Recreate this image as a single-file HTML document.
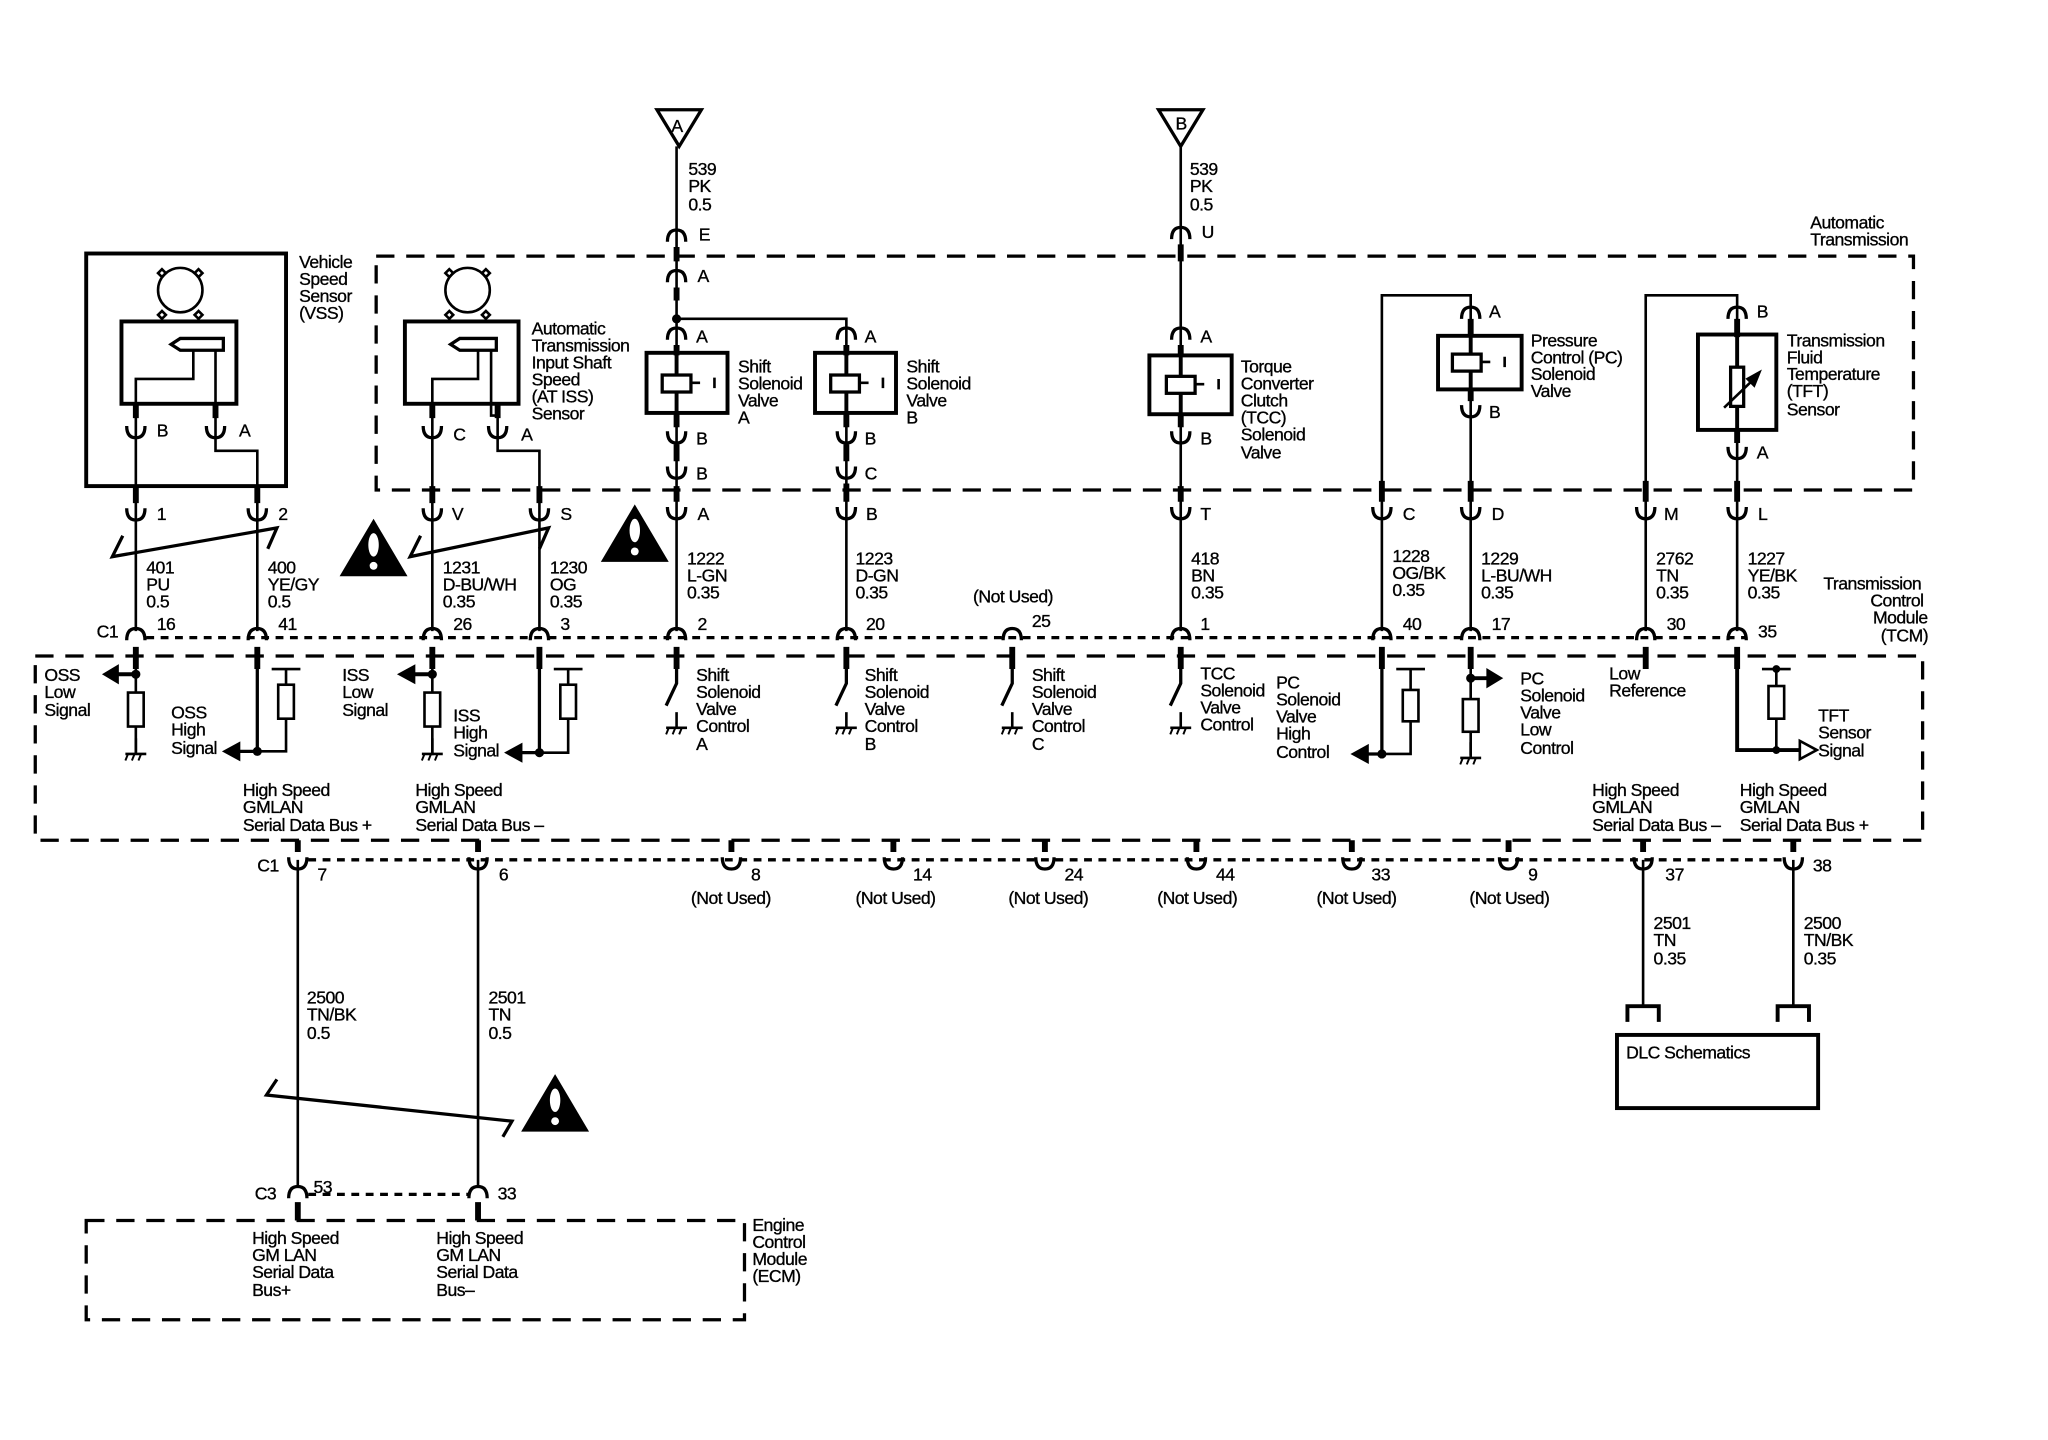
<!DOCTYPE html>
<html><head><meta charset="utf-8"><style>
html,body{margin:0;padding:0;background:#fff}
svg{display:block}
text{font-family:"Liberation Sans",sans-serif;font-size:13.5px;fill:#000;stroke:#000;stroke-width:0.25px;letter-spacing:-0.4px}
</style></head><body>
<svg width="2048" height="1440" viewBox="0 0 1568 1102" preserveAspectRatio="none" xmlns="http://www.w3.org/2000/svg">
<defs>
<path id="c" d="M-7,-8 Q-7,1 0,1 Q7,1 7,-8" fill="none" stroke="#000" stroke-width="2.5"/>
<path id="a" d="M-7,8 Q-7,-1 0,-1 Q7,-1 7,8" fill="none" stroke="#000" stroke-width="2.5"/>
<g id="gnd"><line x1="0" y1="0" x2="0" y2="12" stroke="#000" stroke-width="2"/><line x1="-8" y1="12" x2="8" y2="12" stroke="#000" stroke-width="2"/><line x1="-6" y1="12" x2="-8" y2="17" stroke="#000" stroke-width="1.5"/><line x1="-1" y1="12" x2="-3" y2="17" stroke="#000" stroke-width="1.5"/><line x1="4" y1="12" x2="2" y2="17" stroke="#000" stroke-width="1.5"/></g>
<g id="warn"><polygon points="0,-44 26,0 -26,0" fill="#000"/><ellipse cx="0" cy="-24" rx="4" ry="9" fill="#fff"/><circle cx="0" cy="-8" r="3" fill="#fff"/></g>
</defs>
<g fill="none" stroke="#000" stroke-width="2">
<!-- boxes -->
<rect x="66" y="194" width="153" height="178" stroke-width="3"/>
<rect x="288" y="196" width="1177" height="179" stroke-width="2.5" stroke-dasharray="14,9"/>
<rect x="27" y="502" width="1445" height="141" stroke-width="2.5" stroke-dasharray="14,9"/>
<rect x="66" y="934" width="504" height="76" stroke-width="2.5" stroke-dasharray="14,9"/>
<rect x="1238" y="792" width="154" height="56" stroke-width="3"/>
<!-- dotted connector lines -->
<line x1="112" y1="488" x2="1336" y2="488" stroke-width="2.5" stroke-dasharray="6,5"/>
<line x1="236" y1="658" x2="1368" y2="658" stroke-width="2.5" stroke-dasharray="6,5"/>
<line x1="236" y1="914" x2="360" y2="914" stroke-width="2.5" stroke-dasharray="6,5"/>
<!-- sensor circles -->
<circle cx="138" cy="222" r="17"/><path d="M124,206 l-3,3 3,3 3,-3z M152,206 l-3,3 3,3 3,-3z M124,238 l-3,3 3,3 3,-3z M152,238 l-3,3 3,3 3,-3z"/>
<circle cx="358" cy="222" r="17"/><path d="M344,206 l-3,3 3,3 3,-3z M372,206 l-3,3 3,3 3,-3z M344,238 l-3,3 3,3 3,-3z M372,238 l-3,3 3,3 3,-3z"/>
<rect x="93" y="246" width="88" height="63" stroke-width="3"/>
<rect x="310" y="246" width="87" height="63" stroke-width="3"/>
<path d="M138,268 l33,0 0,-9 -33,0 -7,4.5z" stroke-width="2.5"/><path d="M352,268 l28,0 0,-9 -28,0 -7,4.5z" stroke-width="2.5"/>
<path d="M104,309 V290 H148 V268 M165,268 V309"/>
<path d="M331,309 V290 H366 V268 M376,268 V309"/>
<!-- VSS wires -->
<path d="M104,309 V483"/><path d="M165,309 V345 H197 V483"/>
<path d="M331,309 V483"/><path d="M381,309 V345 H413 V483"/>
<path d="M376,309 V318 H381" />
<!-- columns -->
<path d="M518,112 V483"/><path d="M518,244 H648 V483"/>
<circle cx="518" cy="244" r="2.5" fill="#000"/>
<path d="M904,112 V483"/>
<path d="M1058,483 V226 H1126 V483"/>
<path d="M1260,483 V226 H1330 V483"/>
<!-- triangles -->
<polygon points="503,84 537,84 520,112" stroke-width="2.5"/>
<polygon points="887,84 921,84 904,112" stroke-width="2.5"/>
<!-- solenoid boxes -->
<rect x="495" y="270" width="62" height="46" stroke-width="3" fill="#fff"/>
<rect x="624" y="270" width="62" height="46" stroke-width="3" fill="#fff"/>
<rect x="880" y="272" width="63" height="45" stroke-width="3" fill="#fff"/>
<rect x="1101" y="257" width="64" height="41" stroke-width="3" fill="#fff"/>
<rect x="1300" y="256" width="60" height="73" stroke-width="3" fill="#fff"/>
<path d="M518,270 V316 M648,270 V316 M904,272 V317 M1126,257 V298 M1330,256 V329" stroke-width="3"/>
<rect x="507" y="287" width="22" height="13" stroke-width="2.5" fill="#fff"/><path d="M529,293 H536 M547,289 V297"/>
<rect x="636" y="287" width="22" height="13" stroke-width="2.5" fill="#fff"/><path d="M658,293 H665 M676,289 V297"/>
<rect x="893" y="288" width="22" height="13" stroke-width="2.5" fill="#fff"/><path d="M915,294 H922 M933,290 V298"/>
<rect x="1112" y="271" width="22" height="13" stroke-width="2.5" fill="#fff"/><path d="M1134,277 H1141 M1152,273 V281"/>
<rect x="1325" y="281" width="10" height="30" stroke-width="2.5" fill="#fff"/><path d="M1320,312 L1345,288"/><polygon points="1347,285 1338,290 1343,295" fill="#000"/>
<!-- thick stubs -->
<g stroke-width="4.5">
<path d="M104,309 V320 M165,309 V320 M104,372 V385 M197,372 V385 M104,495 V512 M197,495 V512"/>
<path d="M331,309 V320 M381,309 V320 M331,372 V385 M413,372 V385 M331,495 V512 M413,495 V512"/>
<path d="M518,189 V200 M518,220 V230 M518,264 V272 M518,316 V327 M518,340 V353 M518,372 V384 M518,495 V512"/>
<path d="M648,264 V272 M648,316 V327 M648,340 V353 M648,370 V384 M648,495 V512"/>
<path d="M904,187 V200 M904,264 V272 M904,317 V327 M904,372 V384 M904,495 V512"/>
<path d="M1126,244 V258 M1126,298 V307 M1126,368 V384 M1058,368 V384 M1058,495 V512 M1126,495 V512"/>
<path d="M1330,244 V258 M1330,329 V339 M1260,368 V384 M1330,368 V384 M1260,495 V512 M1330,495 V512 M775,495 V512"/>
<path d="M228,643 V652 M366,643 V652 M560,643 V652 M684,643 V652 M800,643 V652 M916,643 V652 M1035,643 V652 M1155,643 V652 M1258,643 V652 M1373,643 V652 M228,920 V934 M366,920 V934"/>
</g>
<!-- twisted markers -->
<path d="M94,410 L86,426 L212,404 L205,420" stroke-width="2.5"/>
<path d="M322,410 L314,426 L420,404 L413,420" stroke-width="2.5"/>
<path d="M212,826 L204,838 L392,858 L385,870" stroke-width="2.5"/>
<!-- TCM internals: OSS -->
<path d="M104,512 V576"/><rect x="98" y="530" width="12" height="26" fill="#fff"/>
<path d="M104,516 H88" stroke-width="3"/><polygon points="80,516 90,510 90,522" fill="#000"/>
<path d="M197,512 V575 H182" stroke-width="2.5"/><polygon points="172,575 183,569 183,581" fill="#000"/>
<path d="M208,512 H230 M219,512 V575 H197"/><rect x="213" y="524" width="12" height="26" fill="#fff"/>
<circle cx="197" cy="575" r="2.5" fill="#000"/><circle cx="104" cy="516" r="2.5" fill="#000"/>
<!-- ISS -->
<path d="M331,512 V578"/><rect x="325" y="530" width="12" height="26" fill="#fff"/>
<path d="M331,516 H316" stroke-width="3"/><polygon points="306,516 317,510 317,522" fill="#000"/>
<path d="M413,512 V576 H398" stroke-width="2.5"/><polygon points="388,576 399,570 399,582" fill="#000"/>
<path d="M424,512 H446 M435,512 V576 H413"/><rect x="429" y="524" width="12" height="26" fill="#fff"/>
<circle cx="413" cy="576" r="2.5" fill="#000"/><circle cx="331" cy="516" r="2.5" fill="#000"/>
<!-- switches -->
<path d="M518,512 V523 L510,540 M648,512 V523 L640,540 M775,512 V523 L767,540 M904,512 V523 L896,540" stroke-width="2.5"/>
<!-- PC high -->
<path d="M1058,512 V577 H1046" stroke-width="2.5"/><polygon points="1036,577 1047,571 1047,583" fill="#000"/>
<path d="M1069,512 H1091 M1080,512 V577 H1058"/><rect x="1074" y="528" width="12" height="24" fill="#fff"/><circle cx="1058" cy="577" r="2.5" fill="#000"/>
<!-- PC low -->
<path d="M1126,512 V578"/><rect x="1120" y="535" width="12" height="25" fill="#fff"/>
<path d="M1126,519 H1140" stroke-width="3"/><polygon points="1149,519 1139,513 1139,525" fill="#000"/><circle cx="1126" cy="519" r="2.5" fill="#000"/>
<!-- TFT -->
<path d="M1330,512 V574 H1378" stroke-width="3"/><polygon points="1378,567 1391,574 1378,581" fill="#fff" stroke-width="2"/>
<path d="M1349,512 H1371 M1360,512 V574"/><rect x="1354" y="525" width="12" height="25" fill="#fff"/><circle cx="1360" cy="512" r="2" fill="#000"/><circle cx="1360" cy="574" r="2" fill="#000"/>
<!-- lower wires -->
<path d="M228,658 V908 M366,658 V908 M1258,658 V770 M1373,658 V770" stroke-width="2"/>
<path d="M1246,782 V770 H1270 V782 M1361,782 V770 H1385 V782" stroke-width="3"/>
</g>
<!-- grounds -->
<use href="#gnd" x="104" y="565"/><use href="#gnd" x="331" y="565"/><use href="#gnd" x="518" y="545"/><use href="#gnd" x="648" y="545"/><use href="#gnd" x="775" y="545"/><use href="#gnd" x="904" y="545"/><use href="#gnd" x="1126" y="568"/>
<!-- cups -->
<use href="#c" x="104" y="334"/><use href="#c" x="165" y="334"/><use href="#c" x="331" y="334"/><use href="#c" x="381" y="334"/>
<use href="#c" x="104" y="397"/><use href="#c" x="197" y="397"/><use href="#c" x="331" y="397"/><use href="#c" x="413" y="397"/>
<use href="#c" x="518" y="338"/><use href="#c" x="518" y="365"/><use href="#c" x="518" y="396"/>
<use href="#c" x="648" y="338"/><use href="#c" x="648" y="365"/><use href="#c" x="648" y="396"/>
<use href="#c" x="904" y="338"/><use href="#c" x="904" y="396"/>
<use href="#c" x="1126" y="318"/><use href="#c" x="1330" y="350"/>
<use href="#c" x="1058" y="396"/><use href="#c" x="1126" y="396"/><use href="#c" x="1260" y="396"/><use href="#c" x="1330" y="396"/>
<use href="#c" x="228" y="664"/><use href="#c" x="366" y="664"/><use href="#c" x="560" y="664"/><use href="#c" x="684" y="664"/><use href="#c" x="800" y="664"/><use href="#c" x="916" y="664"/><use href="#c" x="1035" y="664"/><use href="#c" x="1155" y="664"/><use href="#c" x="1258" y="664"/><use href="#c" x="1373" y="664"/>
<!-- arches -->
<use href="#a" x="518" y="177"/><use href="#a" x="518" y="208"/><use href="#a" x="518" y="252"/><use href="#a" x="648" y="252"/><use href="#a" x="904" y="175"/><use href="#a" x="904" y="252"/><use href="#a" x="1126" y="236"/><use href="#a" x="1330" y="236"/>
<use href="#a" x="104" y="482"/><use href="#a" x="197" y="482"/><use href="#a" x="331" y="482"/><use href="#a" x="413" y="482"/><use href="#a" x="518" y="482"/><use href="#a" x="648" y="482"/><use href="#a" x="775" y="482"/><use href="#a" x="904" y="482"/><use href="#a" x="1058" y="482"/><use href="#a" x="1126" y="482"/><use href="#a" x="1260" y="482"/><use href="#a" x="1330" y="482"/>
<use href="#a" x="228" y="909"/><use href="#a" x="366" y="909"/>
<!-- warnings -->
<use href="#warn" x="286" y="441"/><use href="#warn" x="486" y="430"/><use href="#warn" x="425" y="866"/>
<!-- text -->
<g>
<text x="514" y="101" font-size="11">A</text><text x="900" y="99" font-size="11">B</text>
<text x="527" y="134">539</text><text x="527" y="147">PK</text><text x="527" y="161">0.5</text>
<text x="911" y="134">539</text><text x="911" y="147">PK</text><text x="911" y="161">0.5</text>
<text x="535" y="184">E</text><text x="534" y="216">A</text><text x="920" y="182">U</text>
<text x="1386" y="175">Automatic</text><text x="1386" y="188">Transmission</text>
<text x="229" y="205">Vehicle</text><text x="229" y="218">Speed</text><text x="229" y="231">Sensor</text><text x="229" y="244">(VSS)</text>
<text x="407" y="256">Automatic</text><text x="407" y="269">Transmission</text><text x="407" y="282">Input Shaft</text><text x="407" y="295">Speed</text><text x="407" y="308">(AT ISS)</text><text x="407" y="321">Sensor</text>
<text x="533" y="262">A</text><text x="662" y="262">A</text><text x="919" y="262">A</text><text x="1140" y="243">A</text><text x="1345" y="243">B</text>
<text x="565" y="285">Shift</text><text x="565" y="298">Solenoid</text><text x="565" y="311">Valve</text><text x="565" y="324">A</text>
<text x="694" y="285">Shift</text><text x="694" y="298">Solenoid</text><text x="694" y="311">Valve</text><text x="694" y="324">B</text>
<text x="950" y="285">Torque</text><text x="950" y="298">Converter</text><text x="950" y="311">Clutch</text><text x="950" y="324">(TCC)</text><text x="950" y="337">Solenoid</text><text x="950" y="351">Valve</text>
<text x="1172" y="265">Pressure</text><text x="1172" y="278">Control (PC)</text><text x="1172" y="291">Solenoid</text><text x="1172" y="304">Valve</text>
<text x="1368" y="265">Transmission</text><text x="1368" y="278">Fluid</text><text x="1368" y="291">Temperature</text><text x="1368" y="304">(TFT)</text><text x="1368" y="318">Sensor</text>
<text x="120" y="334">B</text><text x="183" y="334">A</text><text x="347" y="337">C</text><text x="399" y="337">A</text>
<text x="533" y="340">B</text><text x="533" y="367">B</text><text x="662" y="340">B</text><text x="662" y="367">C</text><text x="919" y="340">B</text><text x="1140" y="320">B</text><text x="1345" y="351">A</text>
<text x="120" y="398">1</text><text x="213" y="398">2</text><text x="346" y="398">V</text><text x="429" y="398">S</text><text x="534" y="398">A</text><text x="663" y="398">B</text><text x="919" y="398">T</text><text x="1074" y="398">C</text><text x="1142" y="398">D</text><text x="1274" y="398">M</text><text x="1346" y="398">L</text>
<text x="112" y="439">401</text><text x="112" y="452">PU</text><text x="112" y="465">0.5</text>
<text x="205" y="439">400</text><text x="205" y="452">YE/GY</text><text x="205" y="465">0.5</text>
<text x="339" y="439">1231</text><text x="339" y="452">D-BU/WH</text><text x="339" y="465">0.35</text>
<text x="421" y="439">1230</text><text x="421" y="452">OG</text><text x="421" y="465">0.35</text>
<text x="526" y="432">1222</text><text x="526" y="445">L-GN</text><text x="526" y="458">0.35</text>
<text x="655" y="432">1223</text><text x="655" y="445">D-GN</text><text x="655" y="458">0.35</text>
<text x="745" y="461">(Not Used)</text>
<text x="912" y="432">418</text><text x="912" y="445">BN</text><text x="912" y="458">0.35</text>
<text x="1066" y="430">1228</text><text x="1066" y="443">OG/BK</text><text x="1066" y="456">0.35</text>
<text x="1134" y="432">1229</text><text x="1134" y="445">L-BU/WH</text><text x="1134" y="458">0.35</text>
<text x="1268" y="432">2762</text><text x="1268" y="445">TN</text><text x="1268" y="458">0.35</text>
<text x="1338" y="432">1227</text><text x="1338" y="445">YE/BK</text><text x="1338" y="458">0.35</text>
<text x="1396" y="451">Transmission</text><text x="1432" y="464">Control</text><text x="1434" y="477">Module</text><text x="1440" y="491">(TCM)</text>
<text x="74" y="488">C1</text><text x="120" y="482">16</text><text x="213" y="482">41</text><text x="347" y="482">26</text><text x="429" y="482">3</text><text x="534" y="482">2</text><text x="663" y="482">20</text><text x="790" y="480">25</text><text x="919" y="482">1</text><text x="1074" y="482">40</text><text x="1142" y="482">17</text><text x="1276" y="482">30</text><text x="1346" y="488">35</text>
<text x="34" y="521">OSS</text><text x="34" y="534">Low</text><text x="34" y="548">Signal</text>
<text x="131" y="550">OSS</text><text x="131" y="563">High</text><text x="131" y="577">Signal</text>
<text x="262" y="521">ISS</text><text x="262" y="534">Low</text><text x="262" y="548">Signal</text>
<text x="347" y="552">ISS</text><text x="347" y="565">High</text><text x="347" y="579">Signal</text>
<text x="533" y="521">Shift</text><text x="533" y="534">Solenoid</text><text x="533" y="547">Valve</text><text x="533" y="560">Control</text><text x="533" y="574">A</text>
<text x="662" y="521">Shift</text><text x="662" y="534">Solenoid</text><text x="662" y="547">Valve</text><text x="662" y="560">Control</text><text x="662" y="574">B</text>
<text x="790" y="521">Shift</text><text x="790" y="534">Solenoid</text><text x="790" y="547">Valve</text><text x="790" y="560">Control</text><text x="790" y="574">C</text>
<text x="919" y="520">TCC</text><text x="919" y="533">Solenoid</text><text x="919" y="546">Valve</text><text x="919" y="559">Control</text>
<text x="977" y="527">PC</text><text x="977" y="540">Solenoid</text><text x="977" y="553">Valve</text><text x="977" y="566">High</text><text x="977" y="580">Control</text>
<text x="1164" y="524">PC</text><text x="1164" y="537">Solenoid</text><text x="1164" y="550">Valve</text><text x="1164" y="563">Low</text><text x="1164" y="577">Control</text>
<text x="1232" y="520">Low</text><text x="1232" y="533">Reference</text>
<text x="1392" y="552">TFT</text><text x="1392" y="565">Sensor</text><text x="1392" y="579">Signal</text>
<text x="186" y="609">High Speed</text><text x="186" y="622">GMLAN</text><text x="186" y="636">Serial Data Bus +</text>
<text x="318" y="609">High Speed</text><text x="318" y="622">GMLAN</text><text x="318" y="636">Serial Data Bus –</text>
<text x="1219" y="609">High Speed</text><text x="1219" y="622">GMLAN</text><text x="1219" y="636">Serial Data Bus –</text>
<text x="1332" y="609">High Speed</text><text x="1332" y="622">GMLAN</text><text x="1332" y="636">Serial Data Bus +</text>
<text x="197" y="667">C1</text><text x="243" y="674">7</text><text x="382" y="674">6</text>
<text x="575" y="674">8</text><text x="699" y="674">14</text><text x="815" y="674">24</text><text x="931" y="674">44</text><text x="1050" y="674">33</text><text x="1170" y="674">9</text><text x="1275" y="674">37</text><text x="1388" y="667">38</text>
<text x="529" y="692">(Not Used)</text><text x="655" y="692">(Not Used)</text><text x="772" y="692">(Not Used)</text><text x="886" y="692">(Not Used)</text><text x="1008" y="692">(Not Used)</text><text x="1125" y="692">(Not Used)</text>
<text x="1266" y="711">2501</text><text x="1266" y="724">TN</text><text x="1266" y="738">0.35</text>
<text x="1381" y="711">2500</text><text x="1381" y="724">TN/BK</text><text x="1381" y="738">0.35</text>
<text x="1245" y="810">DLC Schematics</text>
<text x="235" y="768">2500</text><text x="235" y="781">TN/BK</text><text x="235" y="795">0.5</text>
<text x="374" y="768">2501</text><text x="374" y="781">TN</text><text x="374" y="795">0.5</text>
<text x="195" y="918">C3</text><text x="240" y="913">53</text><text x="381" y="918">33</text>
<text x="193" y="952">High Speed</text><text x="193" y="965">GM LAN</text><text x="193" y="978">Serial Data</text><text x="193" y="992">Bus+</text>
<text x="334" y="952">High Speed</text><text x="334" y="965">GM LAN</text><text x="334" y="978">Serial Data</text><text x="334" y="992">Bus–</text>
<text x="576" y="942">Engine</text><text x="576" y="955">Control</text><text x="576" y="968">Module</text><text x="576" y="981">(ECM)</text>
</g>
</svg>
</body></html>
